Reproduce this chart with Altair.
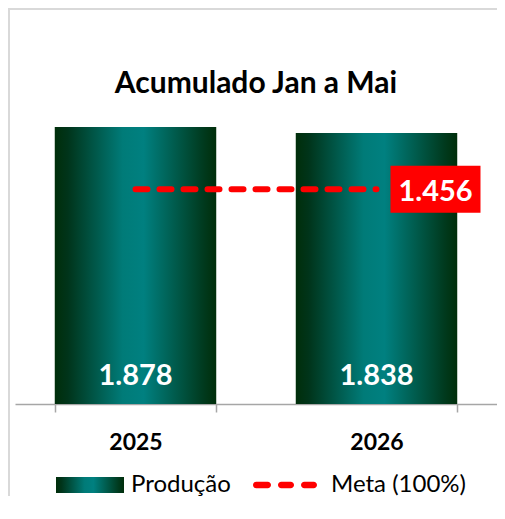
import altair as alt
import pandas as pd

# ---- data ----
years = ["2025", "2026"]
producao = [1878, 1838]
meta_value = 1456
legend_items = ["Produção", "Meta (100%)"]
title_text = "Acumulado Jan a Mai"


def fmt(v):
    return f"{v:,}".replace(",", ".")


bars_df = pd.DataFrame({"ano": years, "producao": producao,
                        "rotulo": [fmt(v) for v in producao]})
meta_df = pd.DataFrame({"ano": years, "meta": [meta_value] * len(years)})
meta_lbl_df = pd.DataFrame({"ano": [years[-1]], "meta": [meta_value],
                            "rotulo": [fmt(meta_value)]})
legend_df = pd.DataFrame({"serie": legend_items})
frame_df = pd.DataFrame({"k": [0]})

FONT = "Lato"
stops = [(0.0, "#002e0a"), (0.08, "#00341a"), (0.42, "#007b78"),
         (0.55, "#008080"), (0.92, "#003a1e"), (1.0, "#002e0a")]
grad = alt.LinearGradient(
    gradient="linear", x1=0, x2=1, y1=0, y2=0,
    stops=[alt.GradientStop(offset=o, color=c) for o, c in stops])
grad_expr = ("{gradient: 'linear', x1: 0, y1: 0, x2: 1, y2: 0, stops: ["
             + ", ".join(f"{{offset: {o}, color: '{c}'}}" for o, c in stops)
             + "]}")

x_enc = alt.X(
    "ano:N", sort=years,
    scale=alt.Scale(paddingInner=0.33, paddingOuter=0.165),
    axis=alt.Axis(title=None, labelAngle=0, labelFont=FONT, labelFontSize=23,
                  labelFontWeight="bold", labelColor="#000000", labelPadding=19,
                  domainColor="#a6a6a6", domainWidth=1.5, tickColor="#a6a6a6",
                  tickWidth=1.5, tickSize=8, tickBand="extent", grid=False))
y_scale = alt.Scale(domain=[0, 2000], nice=False)

bars = alt.Chart(bars_df).mark_bar(color=grad).encode(
    x=x_enc, y=alt.Y("producao:Q", scale=y_scale, axis=None))

bar_labels = alt.Chart(bars_df).mark_text(
    font=FONT, fontSize=29, fontWeight="bold", color="#ffffff",
    baseline="alphabetic", dy=-19).encode(
    x=alt.X("ano:N", sort=years), y=alt.datum(0), text="rotulo:N")

meta_line = alt.Chart(meta_df).mark_line(
    color="#ff0000", strokeWidth=6, strokeDash=[12, 12], strokeCap="round").encode(
    x=alt.X("ano:N", sort=years), y=alt.Y("meta:Q", scale=y_scale))

box_path = "M0.311,-0.522L2.311,-0.522L2.311,0.522L0.311,0.522Z"
meta_box = alt.Chart(meta_lbl_df).mark_point(
    shape=box_path, size=8100, filled=True, fill="#ff0000", opacity=1,
    strokeWidth=0).encode(
    x=alt.X("ano:N", sort=years), y=alt.Y("meta:Q", scale=y_scale))

meta_text = alt.Chart(meta_lbl_df).mark_text(
    font=FONT, fontSize=29, fontWeight="bold", color="#ffffff",
    baseline="alphabetic", dx=59, dy=12).encode(
    x=alt.X("ano:N", sort=years), y=alt.Y("meta:Q", scale=y_scale), text="rotulo:N")


def dash(a, b, r=0.097):
    return (f"M{a + r:.3f},{-r}L{b - r:.3f},{-r}A{r},{r} 0 0 1 {b - r:.3f},{r}"
            f"L{a + r:.3f},{r}A{r},{r} 0 0 1 {a + r:.3f},{-r}Z")


rect_path = "M-1,-0.235L1,-0.235L1,0.235L-1,0.235Z"
dash_path = dash(-1.088, -0.559) + dash(-0.353, 0.118) + dash(0.324, 0.794)

leg = alt.Legend(title=None, orient="none", legendX=41, legendY=342,
                 direction="horizontal", labelFont=FONT, labelFontSize=24,
                 labelColor="#000000", labelOffset=7, columnPadding=22,
                 symbolSize=4624, symbolOpacity=1, symbolStrokeWidth=0)

legend_layer = alt.Chart(legend_df).mark_point(filled=True, size=4624).encode(
    color=alt.Color("serie:N", sort=legend_items,
                    scale=alt.Scale(domain=legend_items,
                                    range=[{"expr": grad_expr}, "#ff0000"]),
                    legend=leg),
    shape=alt.Shape("serie:N", sort=legend_items,
                    scale=alt.Scale(domain=legend_items,
                                    range=[rect_path, dash_path]),
                    legend=leg),
    opacity=alt.value(0))

frame_left = alt.Chart(frame_df).mark_rule(color="#d9d9d9", strokeWidth=2).encode(
    x=alt.value(-6), y=alt.value(-100), y2=alt.value(400))
frame_top = alt.Chart(frame_df).mark_rule(color="#d9d9d9", strokeWidth=2).encode(
    x=alt.value(-7), x2=alt.value(482), y=alt.value(-100))

chart = alt.layer(
    frame_left, frame_top, bars, bar_labels, meta_line, meta_box, meta_text,
    legend_layer
).properties(
    width=482, height=295,
    background="#ffffff",
    title=alt.Title(title_text, font=FONT, fontSize=30, fontWeight="bold",
                    color="#000000", anchor="middle", baseline="alphabetic",
                    frame="group", offset=-115),
    padding={"left": 7, "top": 101, "right": 0, "bottom": 92},
    autosize=alt.AutoSizeParams(type="none"),
).configure_view(stroke="transparent")

chart.save("out.html", embed_options={"renderer": "svg", "actions": False})
